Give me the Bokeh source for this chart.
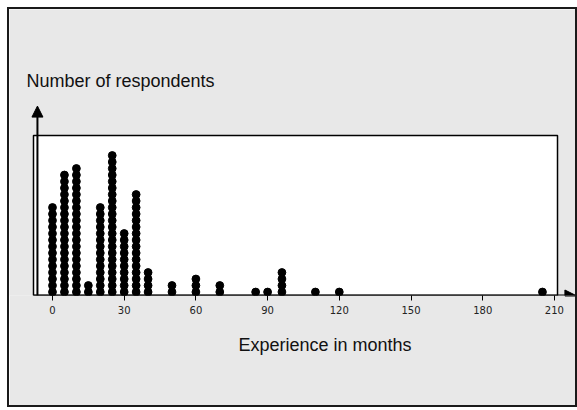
from bokeh.plotting import figure
from bokeh.models import Range1d, FixedTicker, Arrow, NormalHead, Label, Title
from bokeh.embed import file_html
from bokeh.resources import INLINE

# Experience (months) and number of respondents at each value
months = [0, 5, 10, 15, 20, 25, 30, 35, 40, 50, 60, 70, 85, 90, 96, 110, 120, 205]
counts = [14, 19, 20, 2, 14, 22, 10, 16, 4, 2, 3, 2, 1, 1, 4, 1, 1, 1]
x_ticks = [0, 30, 60, 90, 120, 150, 180, 210]
x_title = "Experience in months"
y_title = "Number of respondents"

xs, ys = [], []
for m, c in zip(months, counts):
    for k in range(1, c + 1):
        xs.append(m)
        ys.append(k)

p = figure(width=570, height=400, output_backend="svg", toolbar_location=None,
           x_range=Range1d(-17.99, 220.5), y_range=Range1d(0.4615, 44.46),
           y_axis_location=None,
           min_border_left=0, min_border_right=0, min_border_top=0, min_border_bottom=114)
p.styles = {"border": "2px solid #1a1a1a", "margin-left": "7px", "margin-top": "7px"}
p.background_fill_color = "#e8e8e8"
p.border_fill_color = "#e8e8e8"
p.outline_line_color = None
p.xgrid.visible = False
p.ygrid.visible = False

ax = p.xaxis[0]
ax.ticker = FixedTicker(ticks=x_ticks)
ax.axis_line_color = None
ax.major_tick_out = 5
ax.major_tick_in = 0
ax.minor_tick_line_color = None
ax.major_tick_line_color = "black"
ax.major_tick_line_width = 1
ax.major_label_text_font = "DejaVu Sans"
ax.major_label_text_font_size = "10px"
ax.major_label_text_color = "#222222"
ax.major_label_standoff = 5

# plotting box
p.quad(left=[-7.95], right=[211.3], bottom=[0.4615], top=[25.08],
       fill_color="white", line_color="black", line_width=1.5)

p.scatter(xs, ys, size=7.8, color="black")

# axes with arrows
p.add_layout(Arrow(end=NormalHead(size=11, fill_color="black", line_color="black"),
                   x_start=-6.3, y_start=0.4615, x_end=-6.3, y_end=29.6,
                   line_width=2, line_color="black"))
p.add_layout(Arrow(end=NormalHead(size=11, fill_color="black", line_color="black"),
                   x_start=-7.95, y_start=0.4615, x_end=219.0, y_end=0.4615,
                   line_width=2, line_color="black"))

p.add_layout(Label(x=-10.9, y=33.5, text=y_title, text_font="Liberation Sans",
                   text_font_size="18px", text_baseline="middle", text_align="left",
                   text_color="#111111"))

t = Title(text=x_title, align="left", offset=229, standoff=33,
          text_font="Liberation Sans", text_font_size="18px",
          text_font_style="normal", text_color="#111111")
p.add_layout(t, "below")

open("out.html", "w").write(file_html(p, INLINE))
